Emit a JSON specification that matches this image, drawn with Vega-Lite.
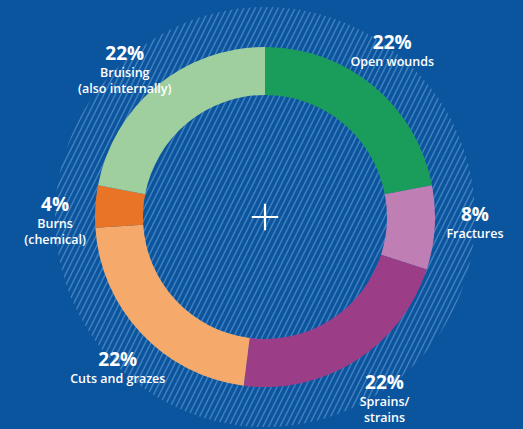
{
  "$schema": "https://vega.github.io/schema/vega-lite/v6.json",
  "width": 516,
  "height": 424,
  "autosize": "none",
  "padding": {"left": 7, "top": 5, "right": 0, "bottom": 0},
  "background": "#0b559f",
  "config": {"view": {"stroke": null}},
  "datasets": {
    "injuries": [
      {"injury": "Open wounds", "share": 22, "rank": 1, "pct": "22%", "label": "Open wounds"},
      {"injury": "Fractures", "share": 8, "rank": 2, "pct": "8%", "label": "Fractures"},
      {"injury": "Sprains/strains", "share": 22, "rank": 3, "pct": "22%", "label": "Sprains/\nstrains"},
      {"injury": "Cuts and grazes", "share": 22, "rank": 4, "pct": "22%", "label": "Cuts and grazes"},
      {"injury": "Burns (chemical)", "share": 4, "rank": 5, "pct": "4%", "label": "Burns\n(chemical)"},
      {"injury": "Bruising (also internally)", "share": 22, "rank": 6, "pct": "22%", "label": "Bruising\n(also internally)"}
    ]
  },
  "layer": [
    {
      "data": {"values": [{"area": "hatch"}]},
      "mark": {
        "type": "arc",
        "theta": 0,
        "theta2": 6.2832,
        "outerRadius": 210,
        "innerRadius": 0,
        "fill": {
          "gradient": "linear",
          "x1": -0.043, "y1": 0.229, "x2": 1.043, "y2": 0.771,
          "stops": [
            {"offset": 0.08, "color": "#4a86c2"}, {"offset": 0.0825, "color": "#0b559f"}, {"offset": 0.0875, "color": "#0b559f"},
            {"offset": 0.09, "color": "#4a86c2"}, {"offset": 0.0925, "color": "#0b559f"}, {"offset": 0.0975, "color": "#0b559f"},
            {"offset": 0.10, "color": "#4a86c2"}, {"offset": 0.1025, "color": "#0b559f"}, {"offset": 0.1075, "color": "#0b559f"},
            {"offset": 0.11, "color": "#4a86c2"}, {"offset": 0.1125, "color": "#0b559f"}, {"offset": 0.1175, "color": "#0b559f"},
            {"offset": 0.12, "color": "#4a86c2"}, {"offset": 0.1225, "color": "#0b559f"}, {"offset": 0.1275, "color": "#0b559f"},
            {"offset": 0.13, "color": "#4a86c2"}, {"offset": 0.1325, "color": "#0b559f"}, {"offset": 0.1375, "color": "#0b559f"},
            {"offset": 0.14, "color": "#4a86c2"}, {"offset": 0.1425, "color": "#0b559f"}, {"offset": 0.1475, "color": "#0b559f"},
            {"offset": 0.15, "color": "#4a86c2"}, {"offset": 0.1525, "color": "#0b559f"}, {"offset": 0.1575, "color": "#0b559f"},
            {"offset": 0.16, "color": "#4a86c2"}, {"offset": 0.1625, "color": "#0b559f"}, {"offset": 0.1675, "color": "#0b559f"},
            {"offset": 0.17, "color": "#4a86c2"}, {"offset": 0.1725, "color": "#0b559f"}, {"offset": 0.1775, "color": "#0b559f"},
            {"offset": 0.18, "color": "#4a86c2"}, {"offset": 0.1825, "color": "#0b559f"}, {"offset": 0.1875, "color": "#0b559f"},
            {"offset": 0.19, "color": "#4a86c2"}, {"offset": 0.1925, "color": "#0b559f"}, {"offset": 0.1975, "color": "#0b559f"},
            {"offset": 0.20, "color": "#4a86c2"}, {"offset": 0.2025, "color": "#0b559f"}, {"offset": 0.2075, "color": "#0b559f"},
            {"offset": 0.21, "color": "#4a86c2"}, {"offset": 0.2125, "color": "#0b559f"}, {"offset": 0.2175, "color": "#0b559f"},
            {"offset": 0.22, "color": "#4a86c2"}, {"offset": 0.2225, "color": "#0b559f"}, {"offset": 0.2275, "color": "#0b559f"},
            {"offset": 0.23, "color": "#4a86c2"}, {"offset": 0.2325, "color": "#0b559f"}, {"offset": 0.2375, "color": "#0b559f"},
            {"offset": 0.24, "color": "#4a86c2"}, {"offset": 0.2425, "color": "#0b559f"}, {"offset": 0.2475, "color": "#0b559f"},
            {"offset": 0.25, "color": "#4a86c2"}, {"offset": 0.2525, "color": "#0b559f"}, {"offset": 0.2575, "color": "#0b559f"},
            {"offset": 0.26, "color": "#4a86c2"}, {"offset": 0.2625, "color": "#0b559f"}, {"offset": 0.2675, "color": "#0b559f"},
            {"offset": 0.27, "color": "#4a86c2"}, {"offset": 0.2725, "color": "#0b559f"}, {"offset": 0.2775, "color": "#0b559f"},
            {"offset": 0.28, "color": "#4a86c2"}, {"offset": 0.2825, "color": "#0b559f"}, {"offset": 0.2875, "color": "#0b559f"},
            {"offset": 0.29, "color": "#4a86c2"}, {"offset": 0.2925, "color": "#0b559f"}, {"offset": 0.2975, "color": "#0b559f"},
            {"offset": 0.30, "color": "#4a86c2"}, {"offset": 0.3025, "color": "#0b559f"}, {"offset": 0.3075, "color": "#0b559f"},
            {"offset": 0.31, "color": "#4a86c2"}, {"offset": 0.3125, "color": "#0b559f"}, {"offset": 0.3175, "color": "#0b559f"},
            {"offset": 0.32, "color": "#4a86c2"}, {"offset": 0.3225, "color": "#0b559f"}, {"offset": 0.3275, "color": "#0b559f"},
            {"offset": 0.33, "color": "#4a86c2"}, {"offset": 0.3325, "color": "#0b559f"}, {"offset": 0.3375, "color": "#0b559f"},
            {"offset": 0.34, "color": "#4a86c2"}, {"offset": 0.3425, "color": "#0b559f"}, {"offset": 0.3475, "color": "#0b559f"},
            {"offset": 0.35, "color": "#4a86c2"}, {"offset": 0.3525, "color": "#0b559f"}, {"offset": 0.3575, "color": "#0b559f"},
            {"offset": 0.36, "color": "#4a86c2"}, {"offset": 0.3625, "color": "#0b559f"}, {"offset": 0.3675, "color": "#0b559f"},
            {"offset": 0.37, "color": "#4a86c2"}, {"offset": 0.3725, "color": "#0b559f"}, {"offset": 0.3775, "color": "#0b559f"},
            {"offset": 0.38, "color": "#4a86c2"}, {"offset": 0.3825, "color": "#0b559f"}, {"offset": 0.3875, "color": "#0b559f"},
            {"offset": 0.39, "color": "#4a86c2"}, {"offset": 0.3925, "color": "#0b559f"}, {"offset": 0.3975, "color": "#0b559f"},
            {"offset": 0.40, "color": "#4a86c2"}, {"offset": 0.4025, "color": "#0b559f"}, {"offset": 0.4075, "color": "#0b559f"},
            {"offset": 0.41, "color": "#4a86c2"}, {"offset": 0.4125, "color": "#0b559f"}, {"offset": 0.4175, "color": "#0b559f"},
            {"offset": 0.42, "color": "#4a86c2"}, {"offset": 0.4225, "color": "#0b559f"}, {"offset": 0.4275, "color": "#0b559f"},
            {"offset": 0.43, "color": "#4a86c2"}, {"offset": 0.4325, "color": "#0b559f"}, {"offset": 0.4375, "color": "#0b559f"},
            {"offset": 0.44, "color": "#4a86c2"}, {"offset": 0.4425, "color": "#0b559f"}, {"offset": 0.4475, "color": "#0b559f"},
            {"offset": 0.45, "color": "#4a86c2"}, {"offset": 0.4525, "color": "#0b559f"}, {"offset": 0.4575, "color": "#0b559f"},
            {"offset": 0.46, "color": "#4a86c2"}, {"offset": 0.4625, "color": "#0b559f"}, {"offset": 0.4675, "color": "#0b559f"},
            {"offset": 0.47, "color": "#4a86c2"}, {"offset": 0.4725, "color": "#0b559f"}, {"offset": 0.4775, "color": "#0b559f"},
            {"offset": 0.48, "color": "#4a86c2"}, {"offset": 0.4825, "color": "#0b559f"}, {"offset": 0.4875, "color": "#0b559f"},
            {"offset": 0.49, "color": "#4a86c2"}, {"offset": 0.4925, "color": "#0b559f"}, {"offset": 0.4975, "color": "#0b559f"},
            {"offset": 0.50, "color": "#4a86c2"}, {"offset": 0.5025, "color": "#0b559f"}, {"offset": 0.5075, "color": "#0b559f"},
            {"offset": 0.51, "color": "#4a86c2"}, {"offset": 0.5125, "color": "#0b559f"}, {"offset": 0.5175, "color": "#0b559f"},
            {"offset": 0.52, "color": "#4a86c2"}, {"offset": 0.5225, "color": "#0b559f"}, {"offset": 0.5275, "color": "#0b559f"},
            {"offset": 0.53, "color": "#4a86c2"}, {"offset": 0.5325, "color": "#0b559f"}, {"offset": 0.5375, "color": "#0b559f"},
            {"offset": 0.54, "color": "#4a86c2"}, {"offset": 0.5425, "color": "#0b559f"}, {"offset": 0.5475, "color": "#0b559f"},
            {"offset": 0.55, "color": "#4a86c2"}, {"offset": 0.5525, "color": "#0b559f"}, {"offset": 0.5575, "color": "#0b559f"},
            {"offset": 0.56, "color": "#4a86c2"}, {"offset": 0.5625, "color": "#0b559f"}, {"offset": 0.5675, "color": "#0b559f"},
            {"offset": 0.57, "color": "#4a86c2"}, {"offset": 0.5725, "color": "#0b559f"}, {"offset": 0.5775, "color": "#0b559f"},
            {"offset": 0.58, "color": "#4a86c2"}, {"offset": 0.5825, "color": "#0b559f"}, {"offset": 0.5875, "color": "#0b559f"},
            {"offset": 0.59, "color": "#4a86c2"}, {"offset": 0.5925, "color": "#0b559f"}, {"offset": 0.5975, "color": "#0b559f"},
            {"offset": 0.60, "color": "#4a86c2"}, {"offset": 0.6025, "color": "#0b559f"}, {"offset": 0.6075, "color": "#0b559f"},
            {"offset": 0.61, "color": "#4a86c2"}, {"offset": 0.6125, "color": "#0b559f"}, {"offset": 0.6175, "color": "#0b559f"},
            {"offset": 0.62, "color": "#4a86c2"}, {"offset": 0.6225, "color": "#0b559f"}, {"offset": 0.6275, "color": "#0b559f"},
            {"offset": 0.63, "color": "#4a86c2"}, {"offset": 0.6325, "color": "#0b559f"}, {"offset": 0.6375, "color": "#0b559f"},
            {"offset": 0.64, "color": "#4a86c2"}, {"offset": 0.6425, "color": "#0b559f"}, {"offset": 0.6475, "color": "#0b559f"},
            {"offset": 0.65, "color": "#4a86c2"}, {"offset": 0.6525, "color": "#0b559f"}, {"offset": 0.6575, "color": "#0b559f"},
            {"offset": 0.66, "color": "#4a86c2"}, {"offset": 0.6625, "color": "#0b559f"}, {"offset": 0.6675, "color": "#0b559f"},
            {"offset": 0.67, "color": "#4a86c2"}, {"offset": 0.6725, "color": "#0b559f"}, {"offset": 0.6775, "color": "#0b559f"},
            {"offset": 0.68, "color": "#4a86c2"}, {"offset": 0.6825, "color": "#0b559f"}, {"offset": 0.6875, "color": "#0b559f"},
            {"offset": 0.69, "color": "#4a86c2"}, {"offset": 0.6925, "color": "#0b559f"}, {"offset": 0.6975, "color": "#0b559f"},
            {"offset": 0.70, "color": "#4a86c2"}, {"offset": 0.7025, "color": "#0b559f"}, {"offset": 0.7075, "color": "#0b559f"},
            {"offset": 0.71, "color": "#4a86c2"}, {"offset": 0.7125, "color": "#0b559f"}, {"offset": 0.7175, "color": "#0b559f"},
            {"offset": 0.72, "color": "#4a86c2"}, {"offset": 0.7225, "color": "#0b559f"}, {"offset": 0.7275, "color": "#0b559f"},
            {"offset": 0.73, "color": "#4a86c2"}, {"offset": 0.7325, "color": "#0b559f"}, {"offset": 0.7375, "color": "#0b559f"},
            {"offset": 0.74, "color": "#4a86c2"}, {"offset": 0.7425, "color": "#0b559f"}, {"offset": 0.7475, "color": "#0b559f"},
            {"offset": 0.75, "color": "#4a86c2"}, {"offset": 0.7525, "color": "#0b559f"}, {"offset": 0.7575, "color": "#0b559f"},
            {"offset": 0.76, "color": "#4a86c2"}, {"offset": 0.7625, "color": "#0b559f"}, {"offset": 0.7675, "color": "#0b559f"},
            {"offset": 0.77, "color": "#4a86c2"}, {"offset": 0.7725, "color": "#0b559f"}, {"offset": 0.7775, "color": "#0b559f"},
            {"offset": 0.78, "color": "#4a86c2"}, {"offset": 0.7825, "color": "#0b559f"}, {"offset": 0.7875, "color": "#0b559f"},
            {"offset": 0.79, "color": "#4a86c2"}, {"offset": 0.7925, "color": "#0b559f"}, {"offset": 0.7975, "color": "#0b559f"},
            {"offset": 0.80, "color": "#4a86c2"}, {"offset": 0.8025, "color": "#0b559f"}, {"offset": 0.8075, "color": "#0b559f"},
            {"offset": 0.81, "color": "#4a86c2"}, {"offset": 0.8125, "color": "#0b559f"}, {"offset": 0.8175, "color": "#0b559f"},
            {"offset": 0.82, "color": "#4a86c2"}, {"offset": 0.8225, "color": "#0b559f"}, {"offset": 0.8275, "color": "#0b559f"},
            {"offset": 0.83, "color": "#4a86c2"}, {"offset": 0.8325, "color": "#0b559f"}, {"offset": 0.8375, "color": "#0b559f"},
            {"offset": 0.84, "color": "#4a86c2"}, {"offset": 0.8425, "color": "#0b559f"}, {"offset": 0.8475, "color": "#0b559f"},
            {"offset": 0.85, "color": "#4a86c2"}, {"offset": 0.8525, "color": "#0b559f"}, {"offset": 0.8575, "color": "#0b559f"},
            {"offset": 0.86, "color": "#4a86c2"}, {"offset": 0.8625, "color": "#0b559f"}, {"offset": 0.8675, "color": "#0b559f"},
            {"offset": 0.87, "color": "#4a86c2"}, {"offset": 0.8725, "color": "#0b559f"}, {"offset": 0.8775, "color": "#0b559f"},
            {"offset": 0.88, "color": "#4a86c2"}, {"offset": 0.8825, "color": "#0b559f"}, {"offset": 0.8875, "color": "#0b559f"},
            {"offset": 0.89, "color": "#4a86c2"}, {"offset": 0.8925, "color": "#0b559f"}, {"offset": 0.8975, "color": "#0b559f"},
            {"offset": 0.90, "color": "#4a86c2"}, {"offset": 0.9025, "color": "#0b559f"}, {"offset": 0.9075, "color": "#0b559f"},
            {"offset": 0.91, "color": "#4a86c2"}, {"offset": 0.9125, "color": "#0b559f"}, {"offset": 0.9175, "color": "#0b559f"},
            {"offset": 0.92, "color": "#4a86c2"}, {"offset": 0.9225, "color": "#0b559f"}, {"offset": 0.9275, "color": "#0b559f"}
          ]
        }
      },
      "encoding": {}
    },
    {
      "data": {"name": "injuries"},
      "mark": {"type": "arc", "outerRadius": 170, "innerRadius": 122},
      "encoding": {
        "theta": {"field": "share", "type": "quantitative", "stack": true},
        "order": {"field": "rank", "type": "quantitative"},
        "color": {
          "field": "injury",
          "type": "nominal",
          "scale": {
            "domain": ["Open wounds", "Fractures", "Sprains/strains", "Cuts and grazes", "Burns (chemical)", "Bruising (also internally)"],
            "range": ["#1a9c5a", "#c07fb4", "#9c3d88", "#f5aa6c", "#e97425", "#9fce9f"]
          },
          "legend": null
        }
      }
    },
    {
      "data": {"name": "injuries"},
      "mark": {"type": "text", "radius": 210, "thetaOffset": -0.04, "dy": -7, "align": "center", "baseline": "middle", "font": "Open Sans", "fontSize": 19, "fontWeight": "bold", "color": "#ffffff"},
      "encoding": {
        "theta": {"field": "share", "type": "quantitative", "stack": true},
        "order": {"field": "rank", "type": "quantitative"},
        "text": {"field": "pct", "type": "nominal"}
      }
    },
    {
      "data": {"name": "injuries"},
      "mark": {"type": "text", "radius": 210, "thetaOffset": -0.04, "dy": 6, "align": "center", "baseline": "top", "lineBreak": "\n", "lineHeight": 16, "font": "Open Sans", "fontSize": 12.5, "fontWeight": 600, "color": "#ffffff"},
      "encoding": {
        "theta": {"field": "share", "type": "quantitative", "stack": true},
        "order": {"field": "rank", "type": "quantitative"},
        "text": {"field": "label", "type": "nominal"}
      }
    },
    {
      "data": {"values": [{"marker": "centre"}]},
      "mark": {"type": "point", "shape": "M-1,0L1,0M0,-1L0,1", "size": 700, "filled": false, "stroke": "#ffffff", "strokeWidth": 2.2, "opacity": 1},
      "encoding": {}
    }
  ]
}
